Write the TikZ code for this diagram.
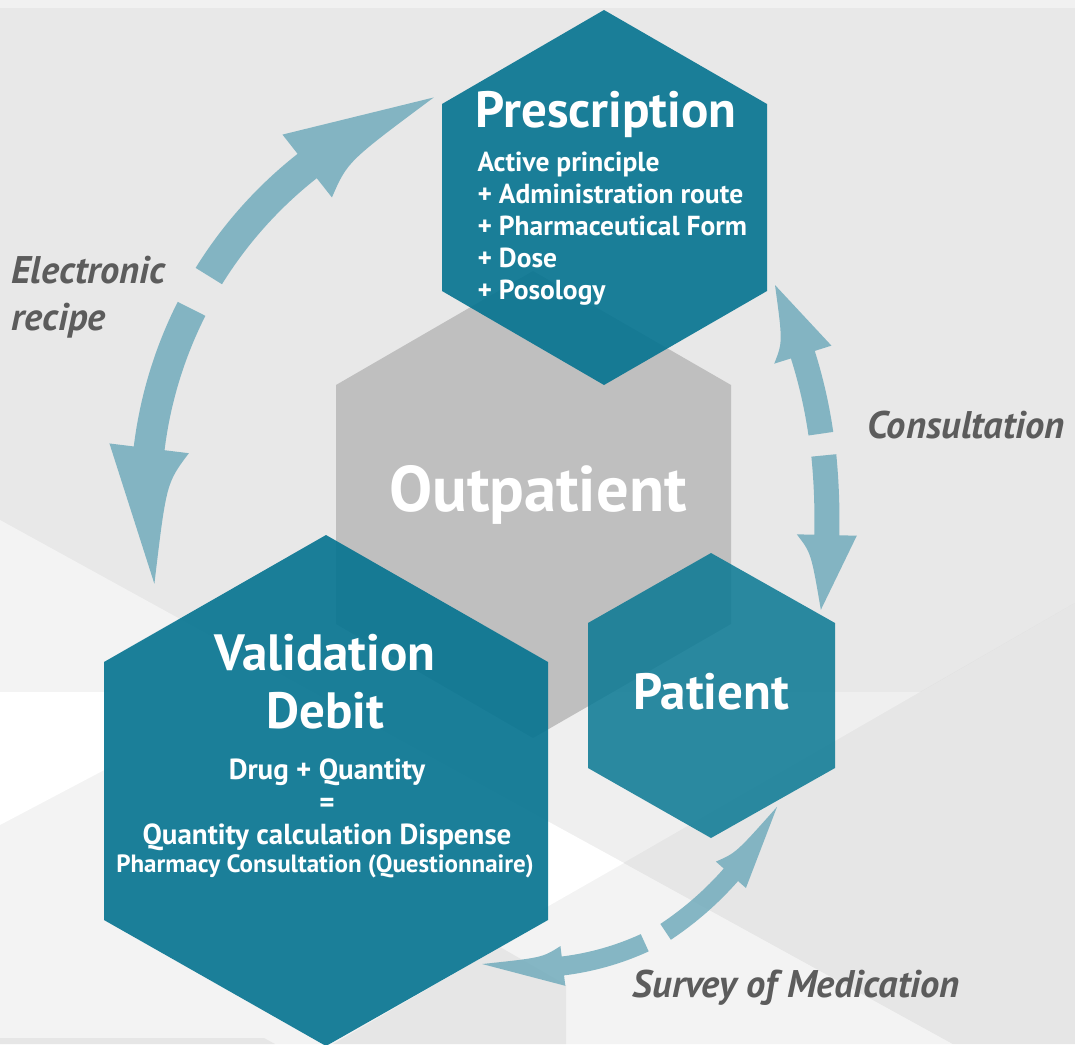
\documentclass[tikz,border=0pt]{standalone}
\usepackage{fontspec}
\setmainfont{PT Sans}
\usepackage{tikz}
\usetikzlibrary{calc}

\definecolor{bgbase}{HTML}{E8E8E8}
\definecolor{bgtop}{HTML}{F1F1F1}
\definecolor{bglight}{HTML}{F3F3F3}
\definecolor{bgpale}{HTML}{EFEFEF}
\definecolor{bgdark}{HTML}{E0E0E0}
\definecolor{bgmid}{HTML}{E6E6E6}
\definecolor{hexgray}{HTML}{BFBFBF}
\definecolor{tealhex}{HTML}{047390}
\definecolor{tealpat}{HTML}{087893}
\definecolor{arrowblue}{HTML}{72ACBC}
\definecolor{labelgray}{HTML}{5C5C5C}

% curved arrow: centre, radius, tail angle, head angle, tip angle, shaft width, head width
\newcommand{\swoosh}[7]{%
  \fill[swooshfill]
    ($(#1)+({#3}:{#2+#6/2})$) arc[start angle=#3, end angle=#4, radius={#2+#6/2}]
    -- ($(#1)+({#4}:{#2+#7/2})$)
    -- ($(#1)+({#5}:{#2})$)
    .. controls ($(#1)+({#4+0.25*(#5-#4)}:{#2-#7/4})$) .. ($(#1)+({#4}:{#2-#7/2})$)
    -- ($(#1)+({#4}:{#2-#6/2})$)
    arc[start angle=#4, end angle=#3, radius={#2-#6/2}]
    -- cycle;}

\begin{document}
\begin{tikzpicture}[x=1pt, y=-1pt,
    swooshfill/.style={fill=arrowblue, fill opacity=0.85},
    hexfill/.style={fill=tealhex, fill opacity=0.9},
    title/.style={text=white, font=\bfseries\fontsize{51}{58}\selectfont},
    body/.style={text=white, font=\bfseries\fontsize{27.5}{32}\selectfont},
    flowlabel/.style={text=labelgray, font=\bfseries\itshape\fontsize{38.5}{47}\selectfont}]
    \useasboundingbox (0,0) rectangle (1075,1044);
    \clip (0,0) rectangle (1075,1044);

    % Background
    \fill[bgbase] (0,0) rectangle (1075,1044);
    \fill[bgtop] (0,0) rectangle (1075,8);
    \fill[bglight] (0,520) -- (953,1044) -- (0,1044) -- cycle;
    \fill[white] (0,692) -- (110,692) -- (110,767) -- (0,825) -- cycle;
    \fill[bgpale] (540,692) -- (920,692) -- (540,911) -- cycle;
    \fill[white] (540,817) -- (624,863) -- (540,911) -- cycle;
    \fill[bgdark] (920,692) -- (1075,603) -- (1075,692) -- cycle;
    \fill[bgmid] (624,863) -- (1075,603) -- (1075,1044) -- (953,1044) -- cycle;
    \fill[bgmid] (500,947) -- (566,985) -- (566,1044) -- (333,1044) -- cycle;
    \fill[bgmid] (0,1038) -- (264,1038) -- (275,1044) -- (0,1044) -- cycle;

    % Hexagones
    \fill[hexgray] (533,271) -- (731,385) -- (731,624) -- (533,738) -- (336,624) -- (336,385) -- cycle;
    \fill[hexfill] (604,10) -- (767,104) -- (767,291) -- (604,385) -- (442,291) -- (442,104) -- cycle;
    \fill[hexfill] (326,535) -- (548,662) -- (548,920) -- (326,1046) -- (104,920) -- (104,662) -- cycle;
    \fill[tealpat, fill opacity=0.85] (711,553) -- (835,623) -- (835,768) -- (711,838) -- (588,768) -- (588,623) -- cycle;

    % Fleches
    \coordinate (cleft) at (570,500);
    \coordinate (cright) at (326,505);
    \coordinate (cright2) at (165,520);
    \coordinate (cbottom) at (529,690);
    \coordinate (cbottom2) at (483,657);
    \swoosh{cleft}{425}{211.8}{231.8}{251.3}{31}{80}
    \swoosh{cleft}{424}{206.8}{187}{168.6}{31}{80}
    \swoosh{cright}{500}{-8.2}{-17.5}{-26.1}{25}{60}
    \swoosh{cright2}{662}{-5.6}{1.3}{7.8}{25}{60}
    \swoosh{cbottom}{278}{65.4}{83}{99.7}{19}{40}
    \swoosh{cbottom2}{330}{56.4}{41.3}{27}{19}{40}

    % Textes
    \node[title] (presc) at (606,114) {Prescription};
    \node[body, anchor=north west, align=left] (prescbody) at (474,148)
        {Active principle\\+ Administration route\\+ Pharmaceutical Form\\+ Dose\\+ Posology};
    \node[title, font=\bfseries\fontsize{64.5}{72}\selectfont] (outp) at (538,495) {Outpatient};
    \node[title, align=center] (valid) at (325,682) {Validation\\Debit};
    \node[body, align=center, font=\bfseries\fontsize{29}{32.5}\selectfont] (validbody) at (327,805)
        {Drug + Quantity\\=\\Quantity calculation Dispense};
    \node[body, font=\bfseries\fontsize{25}{28}\selectfont] (validq) at (325,866) {Pharmacy Consultation (Questionnaire)};
    \node[title] (pat) at (711,692) {Patient};

    \node[flowlabel, anchor=west, align=left] (erecipe) at (8,297) {Electronic\\recipe};
    \node[flowlabel] (consult) at (966,425) {Consultation};
    \node[flowlabel] (survey) at (796,988) {Survey of Medication};
\end{tikzpicture}
\end{document}
